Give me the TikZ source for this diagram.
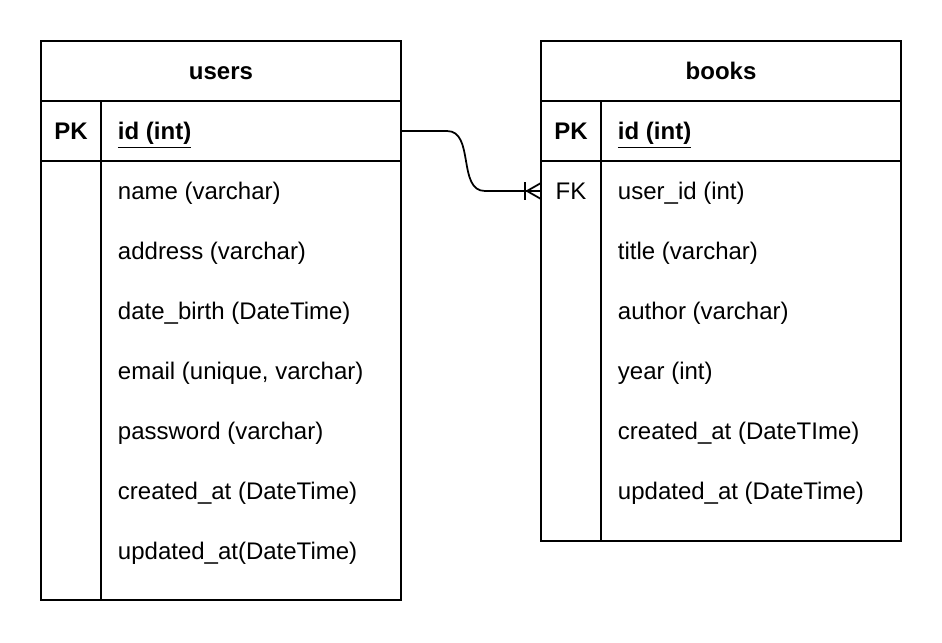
\documentclass[tikz,border=0pt]{standalone}
\usepackage{fontspec}
\setmainfont{Liberation Sans}
\usepackage{tikz}

\tikzset{
  fld/.style={anchor=west, inner sep=0pt},
  txt/.style={font=\fontsize{13.66}{16}\selectfont, text height=0.34cm, text depth=0pt}
}

\begin{document}
\begin{tikzpicture}[x=0.02cm, y=-0.02cm, line width=1.1pt, every node/.style={txt}]
\useasboundingbox (0,0) rectangle (942,642);

% users
\draw (41,41) rectangle (401,600);
\draw (41,101) -- (401,101) (41,161) -- (401,161) (101,101) -- (101,600);
\node (u0) at (221,71) {\bfseries users};
\node (upk) at (71,131) {\bfseries PK};
\node[fld] (u1) at (117,131) {\bfseries\underline{id (int)}};
\node[fld] (u2) at (117,191) {name (varchar)};
\node[fld] (u3) at (117,251) {address (varchar)};
\node[fld] (u4) at (117,311) {date\_birth (DateTime)};
\node[fld] (u5) at (117,371) {email (unique, varchar)};
\node[fld] (u6) at (117,431) {password (varchar)};
\node[fld] (u7) at (117,491) {created\_at (DateTime)};
\node[fld] (u8) at (117,551) {updated\_at(DateTime)};
\coordinate (uid) at (401,131);

% books
\draw (541,41) rectangle (901,541);
\draw (541,101) -- (901,101) (541,161) -- (901,161) (601,101) -- (601,541);
\node (b0) at (721,71) {\bfseries books};
\node (bpk) at (571,131) {\bfseries PK};
\node (bfk) at (571,191) {FK};
\node[fld] (b1) at (617,131) {\bfseries\underline{id (int)}};
\node[fld] (b2) at (617,191) {user\_id (int)};
\node[fld] (b3) at (617,251) {title (varchar)};
\node[fld] (b4) at (617,311) {author (varchar)};
\node[fld] (b5) at (617,371) {year (int)};
\node[fld] (b6) at (617,431) {created\_at (DateTIme)};
\node[fld] (b7) at (617,491) {updated\_at (DateTime)};
\coordinate (bfkin) at (541,191);

% relation
\draw[line width=1pt] (uid) -- ++(46,0) to[out=0,in=180] ++(38,60) -- (bfkin);
\draw[line width=1pt] ([shift={(-16,-9)}]bfkin) -- ++(0,18);
\draw[line width=1pt] ([shift={(0,-8)}]bfkin) -- ++(-14,8) -- ++(14,8);
\end{tikzpicture}
\end{document}
